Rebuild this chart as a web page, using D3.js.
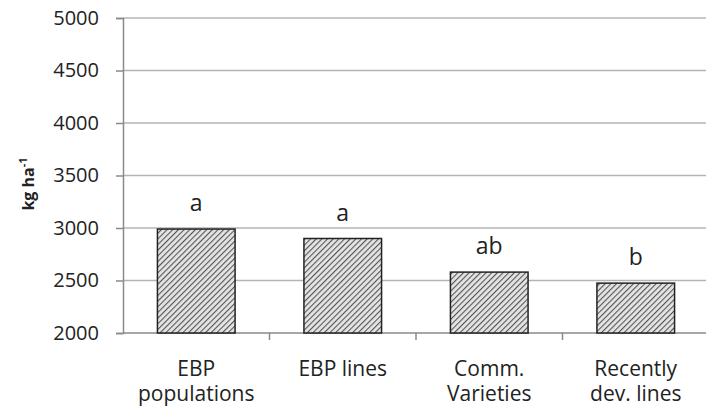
<!DOCTYPE html>
<html>
<head>
<meta charset="utf-8">
<script src="https://cdn.jsdelivr.net/npm/d3@7"></script>
<style>
  body { margin: 0; background: #fff; }
  text { font-family: "Open Sans", "DejaVu Sans", sans-serif; fill: #222; }
</style>
</head>
<body>
<div class="chart"></div>
<script>
'use strict';

const categories = [['EBP', 'populations'], ['EBP lines'], ['Comm.', 'Varieties'], ['Recently', 'dev. lines']];
const values = [2990, 2900, 2580, 2475];
const letters = ['a', 'a', 'ab', 'b'];
const yTicks = [2000, 2500, 3000, 3500, 4000, 4500, 5000];

const WIDTH = 706;
const HEIGHT = 408;
const margin = {top: 18, right: -3, bottom: 75, left: 123};

const svg = d3.select('.chart')
  .append('svg')
    .attr('width', WIDTH)
    .attr('height', HEIGHT);

const defs = svg.append('defs');
const pat = defs.append('pattern')
    .attr('id', 'hatch')
    .attr('patternUnits', 'userSpaceOnUse')
    .attr('width', 4)
    .attr('height', 4)
    .attr('patternTransform', 'rotate(45)');
pat.append('rect').attr('width', 4).attr('height', 4).attr('fill', '#e4e4e4');
pat.append('line')
    .attr('x1', 0).attr('y1', 0).attr('x2', 0).attr('y2', 4)
    .attr('stroke', '#555').attr('stroke-width', 2.2);

const x = d3.scaleBand()
    .domain(d3.range(categories.length))
    .range([margin.left, WIDTH - margin.right])
    .paddingInner(0.47)
    .paddingOuter(0.235);

const y = d3.scaleLinear()
    .domain([2000, 5000])
    .range([HEIGHT - margin.bottom, margin.top]);

// gridlines
svg.append('g')
  .selectAll('line')
  .data(yTicks.slice(1))
  .enter().append('line')
    .attr('x1', margin.left).attr('x2', WIDTH)
    .attr('y1', d => y(d)).attr('y2', d => y(d))
    .attr('stroke', '#b4b4b4')
    .attr('stroke-width', 1.5);

// y axis
const yAxis = svg.append('g')
    .attr('transform', `translate(${margin.left},0)`)
    .call(d3.axisLeft(y).tickValues(yTicks).tickSize(7).tickPadding(17).tickFormat(d3.format('d')));
yAxis.select('.domain').attr('stroke', '#8a8a8a').attr('stroke-width', 1.5);
yAxis.selectAll('.tick line').attr('stroke', '#8a8a8a').attr('stroke-width', 1.5);
yAxis.selectAll('.tick text')
    .attr('font-size', 20)
    .attr('fill', '#222')
    .style('font-family', '"Open Sans", sans-serif');

// x baseline and category ticks
const step = x.step();
const xBase = svg.append('g');
xBase.append('line')
    .attr('x1', margin.left).attr('x2', WIDTH)
    .attr('y1', y(2000)).attr('y2', y(2000))
    .attr('stroke', '#8a8a8a').attr('stroke-width', 1.5);
xBase.selectAll('.ct')
  .data(d3.range(1, categories.length))
  .enter().append('line')
    .attr('class', 'ct')
    .attr('x1', d => margin.left + d * step).attr('x2', d => margin.left + d * step)
    .attr('y1', y(2000)).attr('y2', y(2000) + 7)
    .attr('stroke', '#8a8a8a').attr('stroke-width', 1.5);

// bars
svg.append('g')
  .selectAll('rect')
  .data(values)
  .enter().append('rect')
    .attr('x', (d, i) => x(i))
    .attr('y', d => y(d))
    .attr('width', x.bandwidth())
    .attr('height', d => y(2000) - y(d))
    .attr('fill', 'url(#hatch)')
    .attr('stroke', '#222')
    .attr('stroke-width', 1.5);

// significance letters
svg.append('g')
  .selectAll('text')
  .data(values)
  .enter().append('text')
    .attr('x', (d, i) => x(i) + x.bandwidth() / 2)
    .attr('y', d => y(d) - 18)
    .attr('text-anchor', 'middle')
    .attr('font-size', 23)
    .text((d, i) => letters[i]);

// category labels
const lab = svg.append('g')
  .selectAll('text')
  .data(categories)
  .enter().append('text')
    .attr('x', (d, i) => x(i) + x.bandwidth() / 2)
    .attr('y', 376)
    .attr('text-anchor', 'middle')
    .attr('font-size', 21);
lab.selectAll('tspan')
  .data(d => d)
  .enter().append('tspan')
    .attr('x', function() { return this.parentNode.getAttribute('x'); })
    .attr('dy', (d, i) => i === 0 ? 0 : 25)
    .text(d => d);

// y title
const yt = svg.append('text')
    .attr('transform', 'translate(34,184) rotate(-90)')
    .attr('text-anchor', 'middle')
    .attr('font-size', 16)
    .attr('font-weight', 'bold');
yt.append('tspan').text('kg ha');
yt.append('tspan').attr('dy', -7).attr('font-size', 11).text('-1');
</script>
</body>
</html>
